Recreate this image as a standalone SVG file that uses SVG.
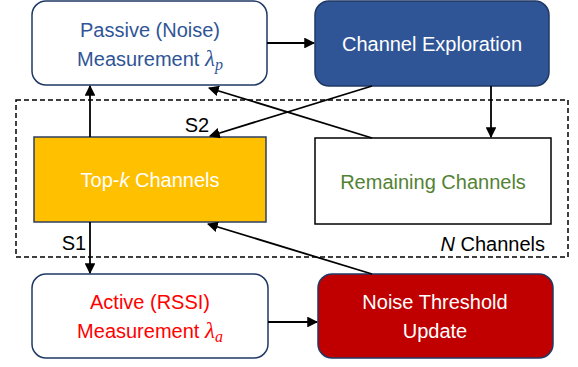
<svg xmlns="http://www.w3.org/2000/svg" width="578" height="367" viewBox="0 0 578 367">
<style>
text{font-family:"Liberation Sans",Arial,sans-serif;font-size:20px;text-anchor:middle}
.m{font-family:"Liberation Serif","DejaVu Serif",serif;font-style:italic}
.c{stroke:#000;stroke-width:1.8;fill:none;marker-end:url(#a)}
</style>
<defs>
<marker id="a" viewBox="0 0 10 10" refX="9" refY="5" markerWidth="6" markerHeight="6" orient="auto" markerUnits="strokeWidth"><path d="M0,0 L10,5 L0,10 z" fill="#000"/></marker>
</defs>
<rect x="16" y="100" width="552" height="157" fill="none" stroke="#000" stroke-width="1.5" stroke-dasharray="5,3"/>
<text x="545" y="251" style="text-anchor:end" fill="#000"><tspan font-style="italic">N</tspan> Channels</text>
<g id="passive">
<rect x="32" y="1" width="235" height="84" rx="14" fill="#fff" stroke="#203864" stroke-width="1.5"/>
<text x="150" y="37" fill="#2F5597">Passive (Noise)</text>
<text x="150" y="66" fill="#2F5597">Measurement  <tspan class="m" font-size="23">λ</tspan><tspan class="m" font-size="16" dy="4">p</tspan></text>
</g>
<g id="exploration">
<rect x="315" y="1" width="234" height="85" rx="14" fill="#2F5597" stroke="#203864" stroke-width="1.5"/>
<text x="432" y="51" fill="#fff">Channel Exploration</text>
</g>
<g id="topk">
<rect x="34" y="137" width="232" height="85" fill="#FFC000" stroke="#2F3F5F" stroke-width="1.5"/>
<text x="150" y="187" fill="#fff">Top-<tspan font-style="italic">k</tspan> Channels</text>
</g>
<g id="remaining">
<rect x="315" y="138" width="236" height="86" fill="#fff" stroke="#000" stroke-width="1.5"/>
<text x="433" y="189" fill="#548235">Remaining Channels</text>
</g>
<g id="active">
<rect x="32" y="274" width="236" height="84" rx="14" fill="#fff" stroke="#203864" stroke-width="1.5"/>
<text x="150" y="309" fill="#FF0000">Active (RSSI)</text>
<text x="150" y="338" fill="#FF0000">Measurement <tspan class="m" font-size="23">λ</tspan><tspan class="m" font-size="16" dy="4">a</tspan></text>
</g>
<g id="noise">
<rect x="318" y="274" width="235" height="84" rx="14" fill="#C00000" stroke="#203864" stroke-width="1.5"/>
<text x="435" y="309" fill="#fff">Noise Threshold</text>
<text x="435" y="338" fill="#fff">Update</text>
</g>
<g id="connectors">
<line class="c" x1="267" y1="43" x2="314" y2="43"/>
<line class="c" x1="491" y1="86" x2="491" y2="137"/>
<line class="c" x1="372" y1="86" x2="210" y2="136"/>
<line class="c" x1="372" y1="138" x2="209" y2="88"/>
<line class="c" x1="90" y1="137" x2="90" y2="86"/>
<line class="c" x1="90" y1="222" x2="90" y2="273"/>
<line class="c" x1="372" y1="274" x2="208" y2="224"/>
<line class="c" x1="268" y1="322" x2="317" y2="322"/>
<text x="197" y="132" fill="#000">S2</text>
<text x="74" y="250" fill="#000">S1</text>
</g>
</svg>
